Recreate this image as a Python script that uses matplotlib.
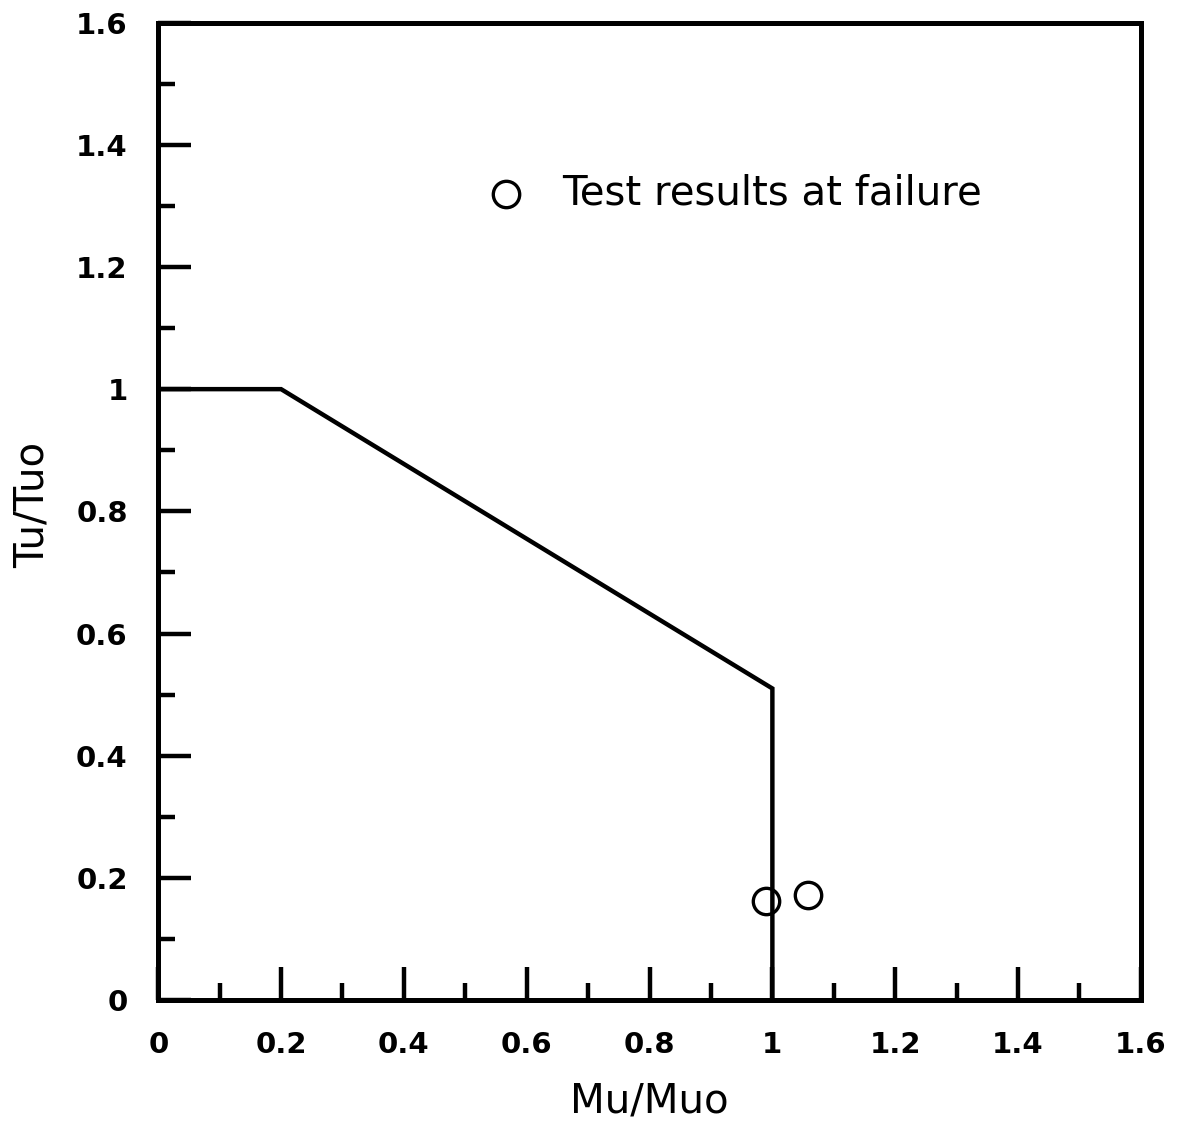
import numpy as np
import matplotlib
matplotlib.use("Agg")
import matplotlib.pyplot as plt
from matplotlib.ticker import MultipleLocator

# Interaction envelope (bending vs torsion)
envelope_m = [0.0, 0.2, 1.0, 1.0]
envelope_t = [1.0, 1.0, 0.51, 0.0]

# Test results at failure
test_m = [0.99, 1.058]
test_t = [0.162, 0.172]

x_ticks = [0, 0.2, 0.4, 0.6, 0.8, 1.0, 1.2, 1.4, 1.6]
x_tick_labels = ["0", "0.2", "0.4", "0.6", "0.8", "1", "1.2", "1.4", "1.6"]
y_ticks = x_ticks
y_tick_labels = x_tick_labels

plt.rcParams["font.family"] = ["DejaVu Sans"]

fig = plt.figure(figsize=(11.81, 11.30), dpi=100)
ax = fig.add_axes([0.134, 0.115, 0.832, 0.865])

ax.plot(envelope_m, envelope_t, color="black", linewidth=3.2,
        solid_joinstyle="miter")
ax.plot(test_m, test_t, linestyle="none", marker="o", markersize=19,
        markerfacecolor="none", markeredgecolor="black", markeredgewidth=2.4)

# legend entry drawn inside the axes
ax.plot([0.566], [1.32], linestyle="none", marker="o", markersize=19,
        markerfacecolor="none", markeredgecolor="black", markeredgewidth=2.4)
ax.text(0.658, 1.32, "Test results at failure", fontsize=29,
        va="center", ha="left")

ax.set_xlim(0, 1.6)
ax.set_ylim(0, 1.6)
ax.set_xticks(x_ticks)
ax.set_xticklabels(x_tick_labels)
ax.set_yticks(y_ticks)
ax.set_yticklabels(y_tick_labels)
ax.xaxis.set_minor_locator(MultipleLocator(0.1))
ax.yaxis.set_minor_locator(MultipleLocator(0.1))

ax.tick_params(which="both", direction="in", width=3.2, color="black",
               labelsize=21, top=False, right=False)
ax.tick_params(which="major", length=24)
ax.tick_params(which="minor", length=12)
ax.tick_params(axis="x", which="major", pad=22)
ax.tick_params(axis="y", which="major", pad=22)
for lbl in ax.get_xticklabels() + ax.get_yticklabels():
    lbl.set_fontweight("bold")

for spine in ax.spines.values():
    spine.set_linewidth(3.6)

ax.set_xlabel("Mu/Muo", fontsize=29)
ax.set_ylabel("Tu/Tuo", fontsize=29)
ax.xaxis.set_label_coords(0.5, -0.083)
ax.yaxis.set_label_coords(-0.108, 0.507)

fig.savefig("out.png", dpi=100, facecolor="white")
